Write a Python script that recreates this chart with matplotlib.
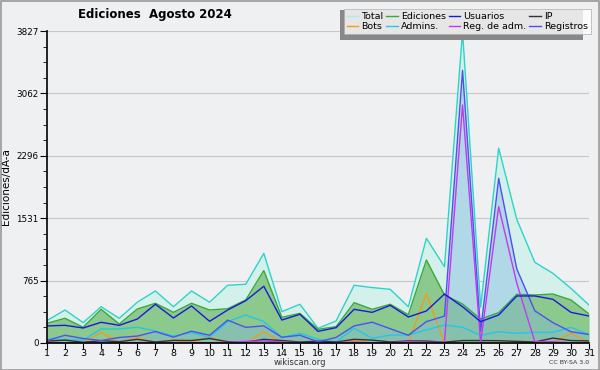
import numpy as np
import matplotlib
matplotlib.use('Agg')
import matplotlib.pyplot as plt
from matplotlib.patches import Rectangle

# datos (día 1..31)
dias = list(range(1, 32))
total = [275, 405, 250, 445, 303, 500, 638, 445, 638, 500, 708, 720, 1100, 385, 475,
         180, 270, 708, 680, 658, 445, 1284, 936, 3820, 440, 2390, 1518, 990, 855, 670, 466]
ediciones = [242, 303, 193, 413, 233, 417, 487, 376, 487, 405, 421, 528, 888, 315, 364,
             168, 200, 495, 413, 475, 347, 1018, 589, 478, 294, 372, 597, 589, 601, 528, 356]
usuarios = [209, 217, 184, 254, 217, 294, 475, 307, 454, 266, 405, 519, 696, 282, 352,
            143, 188, 413, 376, 462, 319, 393, 601, 445, 262, 344, 577, 577, 536, 376, 331]
ip = [23, 35, 9, 28, 16, 45, 12, 32, 30, 55, 16, 9, 45, 30, 12,
      22, 12, 45, 35, 13, 25, 24, 10, 30, 30, 28, 20, 12, 60, 30, 25]
bots = [10, 45, 0, 131, 0, 70, 0, 37, 0, 78, 0, 0, 139, 0, 0,
        0, 0, 29, 0, 0, 0, 601, 0, 0, 0, 0, 0, 0, 0, 119, 0]
admins = [45, 37, 37, 172, 172, 193, 147, 86, 127, 70, 262, 344, 262, 70, 119,
          45, 16, 180, 57, 98, 98, 160, 221, 192, 94, 139, 119, 131, 131, 192, 102]
reg_adm = [5, 3, 2, 2, 3, 5, 3, 2, 4, 3, 8, 20, 25, 10, 5,
           3, 5, 10, 3, 5, 15, 8, 10, 2920, 5, 1673, 735, 16, 16, 3, 3]
registros = [30, 95, 55, 30, 68, 85, 140, 72, 145, 95, 280, 192, 210, 70, 95,
             15, 68, 210, 255, 175, 95, 262, 330, 3345, 145, 2020, 910, 395, 250, 138, 105]

ymax = 3827
yticks = [0, 765, 1531, 2296, 3062, 3827]

bg = '#eff0f1'
fig = plt.figure(figsize=(6, 3.7), dpi=100, facecolor=bg)
ax = fig.add_axes([0.0783, 0.073, 0.9034, 0.843])
ax.set_facecolor(bg)

# áreas
ax.fill_between(dias, total, color='#d3f1ea', lw=0)
ax.fill_between(dias, ediciones, color='#8cc98c', lw=0)
ax.fill_between(dias, registros, color='#80b4e0', alpha=0.4, lw=0)

# líneas
l_total, = ax.plot(dias, total, color='#2dd3cb', lw=1)
l_ed, = ax.plot(dias, ediciones, color='#3aa83a', lw=1)
l_bots, = ax.plot(dias, bots, color='#f39a1e', lw=1)
l_adm, = ax.plot(dias, admins, color='#22c8e6', lw=1)
l_ip, = ax.plot(dias, ip, color='#333333', lw=1)
l_reg, = ax.plot(dias, registros, color='#5050f0', lw=1)
l_regadm, = ax.plot(dias, reg_adm, color='#c13af0', lw=1)
l_us, = ax.plot(dias, usuarios, color='#1a1adc', lw=1)

ax.set_xlim(1, 31)
ax.set_ylim(0, ymax)
ax.set_xticks(dias)
ax.set_xticklabels([str(d) for d in dias], fontsize=6.8)
ax.set_yticks(yticks)
ax.set_yticklabels([str(v) for v in yticks], fontsize=6.3)
ax.set_yticks(np.linspace(0, ymax, 21), minor=True)
ax.tick_params(axis='y', which='major', length=5, pad=1)
ax.tick_params(axis='y', which='minor', length=3)
ax.tick_params(axis='x', length=4, pad=0.5)
ax.grid(axis='y', color='#c8c8c8', lw=0.8)
ax.set_axisbelow(True)
for s in ['top', 'right']:
    ax.spines[s].set_visible(False)
ax.spines['left'].set_linewidth(1.2)
ax.spines['bottom'].set_linewidth(1.2)
ax.set_ylabel('Ediciones/dÃ-a', fontsize=7.5, labelpad=4)

fig.text(0.258, 0.962, 'Ediciones  Agosto 2024', fontsize=8.5, fontweight='bold',
         ha='center', va='center')
fig.text(0.5, 0.02, 'wikiscan.org', fontsize=6, ha='center', va='center', color='#333333')
fig.text(0.982, 0.019, 'CC BY-SA 3.0', fontsize=4.5, ha='right', va='center', color='#333333')

# leyenda con sombra
fig.patches.append(Rectangle((0.566, 0.893), 0.405, 0.08, transform=fig.transFigure,
                             facecolor='#888888', edgecolor='none', zorder=5))
handles = [l_total, l_bots, l_ed, l_adm, l_us, l_regadm, l_ip, l_reg]
labels = ['Total', 'Bots', 'Ediciones', 'Admins.', 'Usuarios', 'Reg. de adm.', 'IP', 'Registros']
leg = fig.legend(handles, labels, ncol=4, fontsize=6.8, loc='upper left',
                 bbox_to_anchor=(0.573, 0.975), frameon=True, fancybox=False,
                 handlelength=1.2, handletextpad=0.35, columnspacing=0.3,
                 labelspacing=0.1, borderpad=0.3, borderaxespad=0)
leg.get_frame().set_facecolor('white')
leg.get_frame().set_edgecolor('#aaaaaa')
leg.get_frame().set_linewidth(0.6)
leg.set_zorder(6)
leg.get_lines()[0].set_color('#a8ecec')

# borde exterior
fig.patches.append(Rectangle((0.001, 0.001), 0.997, 0.997, transform=fig.transFigure,
                             facecolor='none', edgecolor='#999999', lw=1.2))

fig.savefig('out.png', dpi=100, facecolor=bg)
